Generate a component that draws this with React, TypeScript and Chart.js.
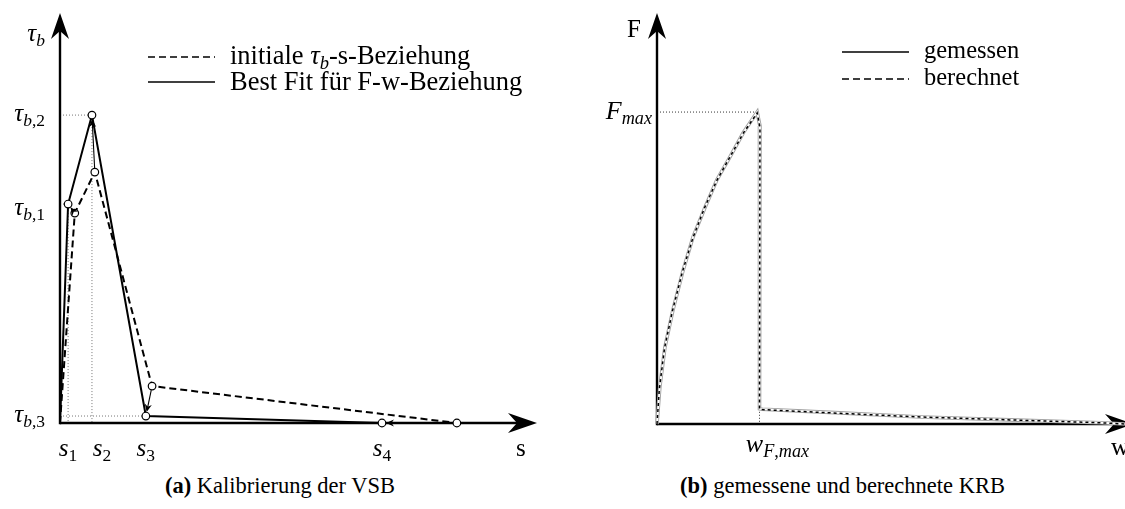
import React, { useEffect, useRef } from "react";
import { Chart, registerables } from "chart.js";

Chart.register(...registerables);

const FONT = '"Liberation Serif", "DejaVu Serif", serif';

// ---------- Panel (a): Kalibrierung der VSB ----------
const initialS = [0, 0.31, 0.73, 1.93, 8.32];
const initialTau = [0, 5.12, 6.12, 0.9, 0];
const bestFitS = [0, 0.17, 0.67, 1.8, 6.75];
const bestFitTau = [0, 5.34, 7.51, 0.17, 0];
const tauTickSubs = ["b,1", "b,2", "b,3"]; // at bestFitTau[1..3]
const sTickSubs = ["1", "2", "3", "4"]; // at bestFitS[1..4]
const legendA = ["initiale τb-s-Beziehung", "Best Fit für F-w-Beziehung"];
const captionA = "Kalibrierung der VSB";

// ---------- Panel (b): gemessene und berechnete KRB ----------
const wMeasured = [0, 0.06, 0.17, 0.34, 0.56, 0.77, 1.03, 1.28, 1.56, 1.84, 2.14, 2.2, 2.19, 2.25, 3.0, 3.91, 5.64, 7.54, 9.49, 10.0];
const fMeasured = [0, 0.9, 1.87, 2.77, 3.75, 4.55, 5.28, 5.94, 6.5, 7.08, 7.59, 7.25, 0.37, 0.36, 0.32, 0.27, 0.17, 0.1, 0.03, 0.0];
const wComputed = [0, 0.05, 0.16, 0.33, 0.55, 0.77, 1.02, 1.28, 1.56, 1.84, 2.14, 2.2, 2.19, 2.25, 3.0, 3.91, 5.64, 7.54, 9.49, 10.0];
const fComputed = [0, 0.85, 1.84, 2.75, 3.73, 4.54, 5.27, 5.93, 6.5, 7.07, 7.57, 7.22, 0.36, 0.35, 0.31, 0.26, 0.17, 0.1, 0.03, 0.0];
const legendB = ["gemessen", "berechnet"];
const captionB = "gemessene und berechnete KRB";

type Seg = { t: string; italic?: boolean; sub?: boolean };

const SIZE = 24;

function segFont(s: Seg, size: number) {
  const sz = s.sub ? size * 0.7 : size;
  return `${s.italic ? "italic " : ""}${sz}px ${FONT}`;
}

function subSegs(str: string): Seg[] {
  return str.split("").map((c) => ({ t: c, italic: /[a-zA-Z]/.test(c), sub: true }));
}

function drawMath(ctx: CanvasRenderingContext2D, segs: Seg[], x: number, y: number, align: "left" | "right" | "center", size = SIZE) {
  let total = 0;
  const widths = segs.map((s) => {
    ctx.font = segFont(s, size);
    const w = ctx.measureText(s.t).width;
    total += w;
    return w;
  });
  let cx = align === "left" ? x : align === "right" ? x - total : x - total / 2;
  ctx.fillStyle = "#000";
  ctx.textBaseline = "alphabetic";
  ctx.textAlign = "left";
  segs.forEach((s, i) => {
    ctx.font = segFont(s, size);
    ctx.fillText(s.t, cx, s.sub ? y + size * 0.2 : y);
    cx += widths[i];
  });
}

function stealth(ctx: CanvasRenderingContext2D, tx: number, ty: number, ux: number, uy: number, L: number, W: number, notch: number) {
  const nx = -uy, ny = ux;
  const bx = tx - ux * L, by = ty - uy * L;
  ctx.beginPath();
  ctx.moveTo(tx, ty);
  ctx.lineTo(bx + nx * W, by + ny * W);
  ctx.lineTo(tx - ux * (L - notch), ty - uy * (L - notch));
  ctx.lineTo(bx - nx * W, by - ny * W);
  ctx.closePath();
  ctx.fill();
}

function seg(ctx: CanvasRenderingContext2D, x1: number, y1: number, x2: number, y2: number) {
  ctx.beginPath();
  ctx.moveTo(x1, y1);
  ctx.lineTo(x2, y2);
  ctx.stroke();
}

function drawAxes(ctx: CanvasRenderingContext2D, x0: number, y0: number, xTip: number, yTip: number) {
  ctx.save();
  ctx.setLineDash([]);
  ctx.strokeStyle = "#000";
  ctx.fillStyle = "#000";
  ctx.lineWidth = 2.4;
  seg(ctx, x0, y0, xTip - 18, y0);
  seg(ctx, x0, y0 + 1.2, x0, yTip + 18);
  stealth(ctx, xTip, y0, 1, 0, 29, 10, 9);
  stealth(ctx, x0, yTip, 0, -1, 26, 9, 8);
  ctx.restore();
}

function smallArrow(ctx: CanvasRenderingContext2D, x1: number, y1: number, x2: number, y2: number, r: number) {
  const dx = x2 - x1, dy = y2 - y1;
  const len = Math.hypot(dx, dy);
  if (len < 1) return;
  const ux = dx / len, uy = dy / len;
  const sx = x1 + ux * r, sy = y1 + uy * r;
  const ex = x2 - ux * r, ey = y2 - uy * r;
  ctx.save();
  ctx.setLineDash([]);
  ctx.strokeStyle = "#000";
  ctx.fillStyle = "#000";
  ctx.lineWidth = 1.1;
  if (len > 2 * r + 6) seg(ctx, sx, sy, ex - ux * 4, ey - uy * 4);
  stealth(ctx, ex, ey, ux, uy, 8, 3.6, 2.5);
  ctx.restore();
}

const panelAPlugin = {
  id: "panelA",
  beforeDatasetsDraw(chart: any) {
    const { ctx, chartArea: a, scales } = chart;
    const x = scales.x, y = scales.y;
    const px = (i: number) => x.getPixelForValue(bestFitS[i]);
    const py = (i: number) => y.getPixelForValue(bestFitTau[i]);
    const y0 = y.getPixelForValue(0);
    const x0 = x.getPixelForValue(0);
    ctx.save();
    ctx.strokeStyle = "#777";
    ctx.lineWidth = 1;
    ctx.setLineDash([1, 2]);
    seg(ctx, x0, py(2), px(2), py(2));
    seg(ctx, px(2), py(2), px(2), y0);
    seg(ctx, x0, py(1), px(1), py(1));
    seg(ctx, px(1), py(1), px(1), y0);
    seg(ctx, x0, py(3), px(3), py(3));
    seg(ctx, px(3), py(3), px(3), y0);
    ctx.restore();
    drawAxes(ctx, x0, y0, a.right, a.top);
  },
  afterDatasetsDraw(chart: any) {
    const { ctx, scales } = chart;
    const x = scales.x, y = scales.y;
    // calibration arrows from initial to best fit
    for (let i = 1; i < initialS.length; i++) {
      smallArrow(
        ctx,
        x.getPixelForValue(initialS[i]), y.getPixelForValue(initialTau[i]),
        x.getPixelForValue(bestFitS[i]), y.getPixelForValue(bestFitTau[i]),
        4
      );
    }
    // tick labels
    drawMath(ctx, [{ t: "τ", italic: true }, ...subSegs("b")], 45, 41, "right", 25);
    tauTickSubs.forEach((s, k) => {
      const yy = y.getPixelForValue(bestFitTau[k + 1]);
      drawMath(ctx, [{ t: "τ", italic: true }, ...subSegs(s)], 45, yy + 6 + (k === 0 ? 5 : 0), "right", 25);
    });
    sTickSubs.forEach((s, k) => {
      const xx = x.getPixelForValue(bestFitS[k + 1]) + (k === 1 ? 10 : 0);
      drawMath(ctx, [{ t: "s", italic: true }, ...subSegs(s)], xx, 456, "center", 25);
    });
    drawMath(ctx, [{ t: "s" }], 516, 456, "left", 25);
    // legend
    ctx.save();
    ctx.strokeStyle = "#000";
    ctx.lineWidth = 1.6;
    ctx.setLineDash([7, 4]);
    seg(ctx, 148, 57, 215, 57);
    ctx.setLineDash([]);
    seg(ctx, 148, 82, 215, 82);
    ctx.restore();
    const parts = legendA[0].split("τb");
    drawMath(ctx, [{ t: parts[0] }, { t: "τ", italic: true }, { t: "b", italic: true, sub: true }, { t: parts[1] }], 230, 64, "left", 26.5);
    drawMath(ctx, [{ t: legendA[1] }], 230, 90, "left", 26.5);
  },
};

const panelBPlugin = {
  id: "panelB",
  beforeDatasetsDraw(chart: any) {
    const { ctx, chartArea: a, scales } = chart;
    const x = scales.x, y = scales.y;
    const x0 = x.getPixelForValue(0);
    const y0 = y.getPixelForValue(0);
    const pk = fMeasured.indexOf(Math.max(...fMeasured));
    ctx.save();
    ctx.strokeStyle = "#333";
    ctx.lineWidth = 1;
    ctx.setLineDash([1, 2]);
    seg(ctx, x0, y.getPixelForValue(fMeasured[pk]), x.getPixelForValue(wMeasured[pk]), y.getPixelForValue(fMeasured[pk]));
    seg(ctx, x.getPixelForValue(wMeasured[pk + 2]), y.getPixelForValue(fMeasured[pk + 2]), x.getPixelForValue(wMeasured[pk + 2]), y0);
    ctx.restore();
    drawAxes(ctx, x0, y0, a.right + 9, a.top);
  },
  afterDatasetsDraw(chart: any) {
    const { ctx, scales } = chart;
    const x = scales.x, y = scales.y;
    const pk = fMeasured.indexOf(Math.max(...fMeasured));
    drawMath(ctx, [{ t: "F" }], 81, 37, "right", 25);
    drawMath(ctx, [{ t: "F", italic: true }, ...subSegs("max")], 92, y.getPixelForValue(fMeasured[pk]) + 7, "right", 26);
    drawMath(ctx, [{ t: "w", italic: true }, ...subSegs("F,max")], x.getPixelForValue(wMeasured[pk + 2]) + 18, 452, "center", 26);
    drawMath(ctx, [{ t: "w" }], 551, 455, "left", 25);
    ctx.save();
    ctx.strokeStyle = "#000";
    ctx.lineWidth = 1.6;
    seg(ctx, 282, 52, 349, 52);
    ctx.setLineDash([7, 4]);
    seg(ctx, 282, 79, 349, 79);
    ctx.restore();
    drawMath(ctx, [{ t: legendB[0] }], 364, 58, "left", 24.5);
    drawMath(ctx, [{ t: legendB[1] }], 364, 85, "left", 24.5);
  },
};

function baseOptions(padding: any) {
  return {
    responsive: false,
    animation: false as const,
    events: [] as any[],
    layout: { padding },
    plugins: { legend: { display: false }, tooltip: { enabled: false } },
    scales: {
      x: { type: "linear" as const, min: 0, max: 10, display: false },
      y: { type: "linear" as const, min: 0, max: 10, display: false },
    },
  };
}

const pts = (xs: number[], ys: number[]) => xs.map((v, i) => ({ x: v, y: ys[i] }));

export default function App() {
  const refA = useRef<HTMLCanvasElement>(null);
  const refB = useRef<HTMLCanvasElement>(null);

  useEffect(() => {
    const radii = [0, 3.8, 3.8, 3.8, 3.8];
    const chartA = new Chart(refA.current!, {
      type: "scatter",
      data: {
        datasets: [
          {
            label: "Best Fit für F-w-Beziehung",
            data: pts(bestFitS, bestFitTau),
            showLine: true,
            borderColor: "#000",
            borderWidth: 2,
            pointRadius: radii,
            pointBackgroundColor: "#fff",
            pointBorderColor: "#000",
            pointBorderWidth: 1.2,
            clip: false,
            order: 0,
          },
          {
            label: "initiale τb-s-Beziehung",
            data: pts(initialS, initialTau),
            showLine: true,
            borderColor: "#000",
            borderWidth: 2,
            borderDash: [7, 4],
            pointRadius: radii,
            pointBackgroundColor: "#fff",
            pointBorderColor: "#000",
            pointBorderWidth: 1.2,
            clip: false,
            order: 1,
          },
        ],
      },
      options: baseOptions({ left: 60, right: 23, top: 13, bottom: 47 }) as any,
      plugins: [panelAPlugin],
    });

    const chartB = new Chart(refB.current!, {
      type: "scatter",
      data: {
        datasets: [
          {
            label: "berechnet",
            data: pts(wComputed, fComputed),
            showLine: true,
            borderColor: "#000",
            borderWidth: 1.5,
            borderDash: [3, 3],
            pointRadius: 0,
            clip: false,
            order: 0,
          },
          {
            label: "gemessen (Kern)",
            data: pts(wMeasured, fMeasured),
            showLine: true,
            borderColor: "#fff",
            borderWidth: 1.8,
            pointRadius: 0,
            clip: false,
            order: 1,
          },
          {
            label: "gemessen",
            data: pts(wMeasured, fMeasured),
            showLine: true,
            borderColor: "#a0a0a0",
            borderWidth: 3.6,
            pointRadius: 0,
            clip: false,
            order: 2,
          },
        ],
      },
      options: baseOptions({ left: 97, right: 0, top: 13, bottom: 46 }) as any,
      plugins: [panelBPlugin],
    });

    return () => {
      chartA.destroy();
      chartB.destroy();
    };
  }, []);

  const capStyle: React.CSSProperties = {
    position: "absolute",
    top: 473,
    textAlign: "center",
    font: `22.5px ${FONT}`,
    color: "#000",
    whiteSpace: "nowrap",
  };

  return (
    <div style={{ position: "absolute", left: 0, top: 0, width: 1125, height: 509, background: "#fff", overflow: "hidden" }}>
      <canvas ref={refA} width={560} height={470} style={{ position: "absolute", left: 0, top: 0 }} />
      <canvas ref={refB} width={565} height={470} style={{ position: "absolute", left: 560, top: 0 }} />
      <div style={{ ...capStyle, left: 0, width: 560 }}>
        <b>(a)</b> {captionA}
      </div>
      <div style={{ ...capStyle, left: 560, width: 565 }}>
        <b>(b)</b> {captionB}
      </div>
    </div>
  );
}
